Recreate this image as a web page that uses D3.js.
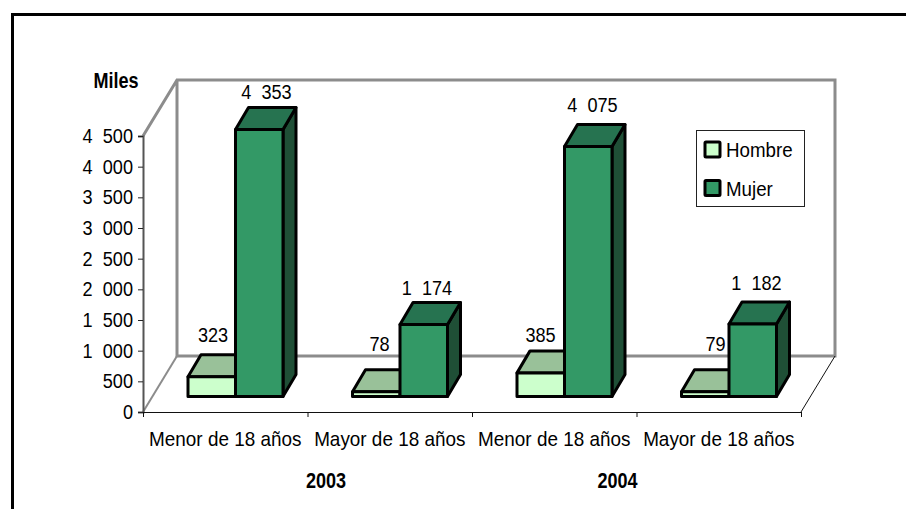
<!DOCTYPE html>
<html><head><meta charset="utf-8">
<script src="https://cdn.jsdelivr.net/npm/d3@7/dist/d3.min.js"></script>
<style>html,body{margin:0;padding:0;background:#fff}svg{display:block}
text{font-family:"Liberation Sans",Arial,sans-serif;fill:#000;white-space:pre}</style></head>
<body><svg id="c" width="906" height="509"></svg>
<script>
const categories = ["Menor de 18 años","Mayor de 18 años","Menor de 18 años","Mayor de 18 años"];
const years = ["2003","2004"];
const seriesNames = ["Hombre","Mujer"];
const hombre = [323,78,385,79];
const mujer = [4353,1174,4075,1182];
const hombreLabels = ["323","78","385","79"];
const mujerLabels = ["4  353","1  174","4  075","1  182"];
const yTicks = [0,500,1000,1500,2000,2500,3000,3500,4000,4500];
const yTickLabels = ["0","500","1  000","1  500","2  000","2  500","3  000","3  500","4  000","4  500"];
const colors = {Hombre:["#ccffcc","#99c199","#66806a"],Mujer:["#339966","#267350","#1f4f36"]};

const svg = d3.select("#c");
const X0=143,X1=801,Y0=412,Y1=136,DX=34,DY=-56;
const x = d3.scaleBand().domain(d3.range(4)).range([X0,X1]);
const y = d3.scaleLinear().domain([0,4500]).range([Y0,Y1]);
// hand-placed data-label nudges, as in the original chart
const hombreNudge = [[0,-13],[2,-19],[-1.5,-9],[9,-19]];
const mujerNudge = [[0,-9],[-4,-7],[-3,-13],[-3.5,-12]];

function label(px,py,s,anchor,size,sx,bold){
  return svg.append("text").attr("transform",`translate(${px},${py}) scale(${sx},1)`)
    .attr("text-anchor",anchor).attr("font-size",size).attr("font-weight",bold?"bold":"normal").text(s);
}

// frame: left and top only
svg.append("path").attr("d","M12.5,509V14.5H906").attr("fill","none").attr("stroke","#000").attr("stroke-width",3);

// walls
const wall="#8c8c8c";
svg.append("path").attr("d",`M${X0},${Y1}L${X0+DX},${Y1+DY}H${X1+DX}V${Y0+DY}H${X0+DX}V${Y1+DY}`).attr("fill","none").attr("stroke",wall).attr("stroke-width",3);
svg.append("line").attr("x1",X0).attr("y1",Y0).attr("x2",X0+DX).attr("y2",Y0+DY).attr("stroke",wall).attr("stroke-width",2);
svg.append("line").attr("x1",X1).attr("y1",Y0).attr("x2",X1+DX).attr("y2",Y0+DY).attr("stroke","#111").attr("stroke-width",1);

// axes
const gy = svg.append("g").attr("transform",`translate(${X0},0)`).call(d3.axisLeft(y).tickValues(yTicks).tickSize(5).tickFormat(()=>""));
gy.selectAll("line").attr("stroke","#222").attr("stroke-width",1);
gy.select("path").attr("stroke","#555").attr("stroke-width",2);
yTicks.forEach((d,i)=>label(X0-10,y(d)+7,yTickLabels[i],"end",19.5,0.93));
const gx = svg.append("g").attr("transform",`translate(0,${Y0})`)
  .call(d3.axisBottom(d3.scaleLinear().domain([0,4]).range([X0,X1])).tickValues([0,1,2,3,4]).tickSize(5).tickFormat(()=>""));
gx.selectAll("path,line").attr("stroke","#111").attr("stroke-width",1);

// bars
const BW=47.5,DXB=13,DYB=-22,BASE=-15.5;
function bar(px,val,c){
  const top=y(val)+BASE, bot=Y0+BASE, g=svg.append("g").attr("stroke","#000").attr("stroke-width",3).attr("stroke-linejoin","round");
  g.append("path").attr("d",`M${px+BW},${bot}V${top}L${px+BW+DXB},${top+DYB}V${bot+DYB}Z`).attr("fill",c[2]);
  g.append("path").attr("d",`M${px},${top}L${px+DXB},${top+DYB}H${px+BW+DXB}L${px+BW},${top}Z`).attr("fill",c[1]);
  g.append("rect").attr("x",px).attr("y",top).attr("width",BW).attr("height",bot-top).attr("fill",c[0]);
}
categories.forEach((_,i)=>{
  const px=x(i)+45;
  bar(px,hombre[i],colors.Hombre);
  bar(px+BW,mujer[i],colors.Mujer);
  label(px+25+hombreNudge[i][0],y(hombre[i])+BASE+DYB+hombreNudge[i][1],hombreLabels[i],"middle",19.5,0.93);
  label(px+BW+31+mujerNudge[i][0],y(mujer[i])+BASE+DYB+mujerNudge[i][1],mujerLabels[i],"middle",19.5,0.93);
  label(x(i)+x.bandwidth()/2,446,categories[i],"middle",19.5,0.97);
});
years.forEach((t,i)=>label(326+i*291.5,488,t,"middle",21.5,0.84,true));
label(116,88,"Miles","middle",21.5,0.84,true);

// legend
svg.append("rect").attr("x",696.5).attr("y",130.5).attr("width",108).attr("height",76).attr("fill","#fff").attr("stroke","#222").attr("stroke-width",1);
seriesNames.forEach((n,i)=>{
  const ly=142+i*38.5;
  svg.append("rect").attr("x",705).attr("y",ly).attr("width",15).attr("height",15).attr("rx",1).attr("fill",colors[n][0]).attr("stroke","#000").attr("stroke-width",3);
  label(726,ly+15,n,"start",19.5,0.96);
});
</script></body></html>
